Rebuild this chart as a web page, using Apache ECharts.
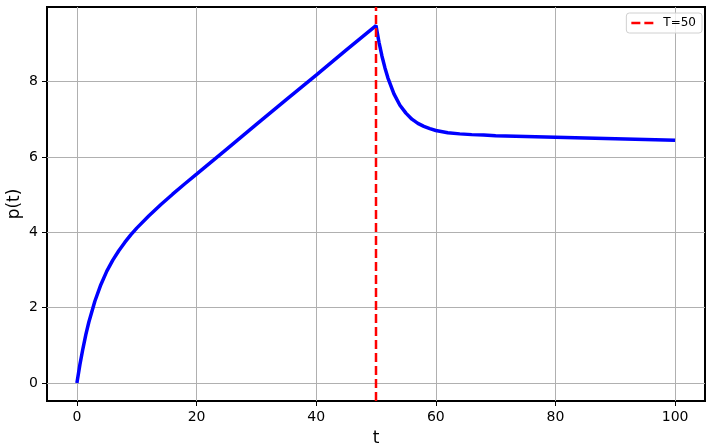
<!DOCTYPE html>
<html><head><meta charset="utf-8">
<script src="https://cdn.jsdelivr.net/npm/echarts@6/dist/echarts.min.js"></script>
<style>html,body{margin:0;padding:0;background:#fff}#c{width:708px;height:444px}</style>
</head><body><div id="c"></div>
<script>
// curve
const tValues = [0,0.5,1,1.5,2,3,4,5,6,7,8,9,10,12,14,16,18,20,25,30,35,40,45,50,
  50.5,51,51.5,52,53,54,55,56,57,58,59,60,62,64,66,68,70,75,80,85,90,95,100];
const pValues = [0,0.49,0.91,1.29,1.62,2.17,2.61,2.97,3.26,3.51,3.73,3.93,4.11,4.43,4.73,5.01,5.28,5.54,6.2,6.86,7.52,8.17,8.83,9.48,
  9.04,8.67,8.36,8.09,7.67,7.37,7.16,7.0,6.89,6.81,6.75,6.7,6.64,6.61,6.59,6.58,6.56,6.54,6.52,6.5,6.48,6.46,6.44];
const T = 50;
const xTicks = [0,20,40,60,80,100];
const yTicks = [0,2,4,6,8];
const xRange = [-5,105];
const yRange = [-0.475,9.975];

const font = 'DejaVu Sans';
const chart = echarts.init(document.getElementById('c'), null, {renderer:'canvas'});
chart.setOption({
  animation:false,
  backgroundColor:'#fff',
  grid:{left:47,right:3,top:7,bottom:43,containLabel:false,outerBoundsMode:'none',show:true,borderColor:'#000',borderWidth:2,backgroundColor:'transparent'},
  legend:{
    right:6,top:13,orient:'vertical',
    data:[{name:'T=50',icon:'path://M0,0H9V2.5H0Z M13,0H22V2.5H13Z'}],
    itemWidth:22,itemHeight:3,
    textStyle:{fontFamily:font,fontSize:12,color:'#000',padding:[0,0,0,5]},
    borderColor:'#d0d0d0',borderWidth:1,borderRadius:3,padding:[4,6,4,5],
    backgroundColor:'rgba(255,255,255,0.8)'
  },
  xAxis:{
    type:'value',min:xRange[0],max:xRange[1],
    name:'t',nameLocation:'middle',nameGap:29,nameMoveOverlap:false,
    nameTextStyle:{fontFamily:font,fontSize:17,color:'#000'},
    axisLine:{show:false,onZero:false},
    axisTick:{show:true,inside:false,length:5,lineStyle:{color:'#000',width:1},customValues:xTicks},
    axisLabel:{fontFamily:font,fontSize:14,color:'#000',margin:9,customValues:xTicks},
    splitLine:{show:true,lineStyle:{color:'#b0b0b0',width:1}}
  },
  yAxis:{
    type:'value',min:yRange[0],max:yRange[1],
    name:'p(t)',nameLocation:'middle',nameGap:24,nameRotate:90,nameMoveOverlap:false,
    nameTextStyle:{fontFamily:font,fontSize:17,color:'#000'},
    axisLine:{show:false,onZero:false},
    axisTick:{show:true,inside:false,length:5,lineStyle:{color:'#000',width:1},customValues:yTicks},
    axisLabel:{fontFamily:font,fontSize:14,color:'#000',margin:9,customValues:yTicks},
    splitLine:{show:true,lineStyle:{color:'#b0b0b0',width:1}}
  },
  series:[
    {
      name:'p',type:'line',symbol:'none',smooth:false,
      data:tValues.map((t,i)=>[t,pValues[i]]),
      lineStyle:{color:'#0000ff',width:3.5},
      z:3
    },
    {
      name:'T=50',type:'line',symbol:'none',
      data:[[T,yRange[0]],[T,yRange[1]]],
      lineStyle:{color:'#ff0000',width:2.5,type:[9,4]},
      itemStyle:{color:'#ff0000'},
      z:4
    }
  ]
});
</script></body></html>
